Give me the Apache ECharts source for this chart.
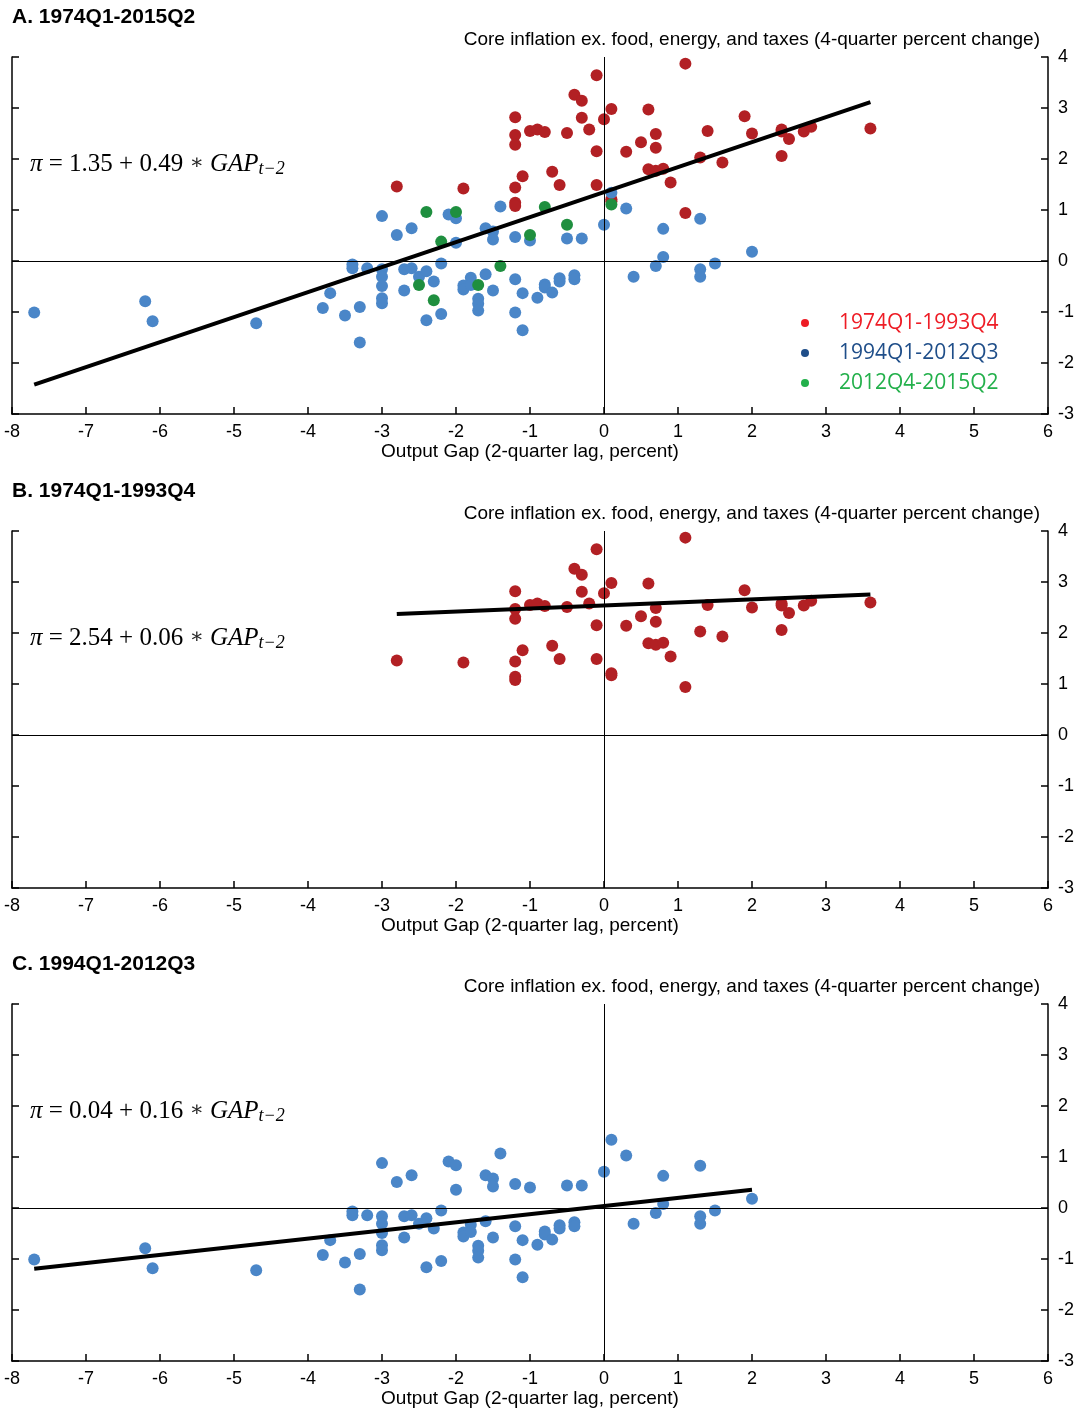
<!DOCTYPE html>
<html>
<head>
<meta charset="utf-8">
<script src="https://cdn.jsdelivr.net/npm/echarts@6/dist/echarts.min.js"></script>
<style>
  html, body { margin: 0; padding: 0; background: #fff; }
  #chart { width: 1080px; height: 1412px; }
</style>
</head>
<body>
<div id="chart"></div>
<script>
// 1974Q1-1993Q4 (output gap t-2, core inflation)
var redPts = [
  [-2.8, 1.46], [-1.9, 1.42], [-1.2, 2.82], [-1.2, 2.47], [-1.2, 2.28], [-1.2, 1.44],
  [-1.2, 1.14], [-1.2, 1.08], [-1.1, 1.66], [-1.0, 2.55], [-0.9, 2.58], [-0.8, 2.53],
  [-0.7, 1.75], [-0.6, 1.49], [-0.5, 2.51], [-0.4, 3.26], [-0.3, 3.14], [-0.3, 2.81],
  [-0.2, 2.58], [-0.1, 3.64], [-0.1, 2.15], [-0.1, 1.49], [0.0, 2.78], [0.1, 2.98],
  [0.1, 1.21], [0.1, 1.17], [0.3, 2.14], [0.5, 2.33], [0.6, 2.97], [0.6, 1.80],
  [0.7, 2.49], [0.7, 2.22], [0.7, 1.77], [0.8, 1.81], [0.9, 1.54], [1.1, 3.87],
  [1.1, 0.94], [1.3, 2.03], [1.4, 2.55], [1.6, 1.93], [1.9, 2.84], [2.0, 2.50],
  [2.4, 2.58], [2.4, 2.54], [2.4, 2.06], [2.5, 2.39], [2.7, 2.54], [2.8, 2.63],
  [3.6, 2.60]
];
// 1994Q1-2012Q3
var bluePts = [
  [-7.7, -1.01], [-6.2, -0.79], [-6.1, -1.18], [-4.7, -1.22], [-3.8, -0.92], [-3.7, -0.63],
  [-3.5, -1.07], [-3.4, -0.07], [-3.4, -0.14], [-3.3, -0.90], [-3.3, -1.60], [-3.2, -0.14],
  [-3.0, 0.88], [-3.0, -0.16], [-3.0, -0.31], [-3.0, -0.49], [-3.0, -0.73], [-3.0, -0.83],
  [-2.8, 0.51], [-2.7, -0.16], [-2.7, -0.58], [-2.6, 0.64], [-2.6, -0.14], [-2.5, -0.31],
  [-2.4, -0.20], [-2.4, -1.16], [-2.3, -0.40], [-2.2, -0.05], [-2.2, -1.04], [-2.1, 0.91],
  [-2.0, 0.84], [-2.0, 0.36], [-1.9, -0.48], [-1.9, -0.56], [-1.8, -0.33], [-1.8, -0.47],
  [-1.7, -0.74], [-1.7, -0.84], [-1.7, -0.97], [-1.6, 0.64], [-1.6, -0.26], [-1.5, 0.58],
  [-1.5, 0.42], [-1.5, -0.58], [-1.4, 1.07], [-1.2, 0.47], [-1.2, -0.36], [-1.2, -1.01],
  [-1.1, -0.63], [-1.1, -1.36], [-1.0, 0.40], [-0.9, -0.72], [-0.8, -0.46], [-0.8, -0.52],
  [-0.7, -0.62], [-0.6, -0.34], [-0.6, -0.40], [-0.5, 0.44], [-0.4, -0.28], [-0.4, -0.36],
  [-0.3, 0.44], [0.0, 0.71], [0.1, 1.34], [0.3, 1.03], [0.4, -0.31], [0.7, -0.10],
  [0.8, 0.63], [0.8, 0.08], [1.3, 0.83], [1.3, -0.16], [1.3, -0.31], [1.5, -0.05],
  [2.0, 0.18]
];
// 2012Q4-2015Q2
var greenPts = [
  [-2.4, 0.96], [-2.0, 0.96], [-2.2, 0.38], [-2.5, -0.47], [-2.3, -0.77], [-1.7, -0.47],
  [-1.4, -0.10], [-1.0, 0.51], [-0.8, 1.06], [-0.5, 0.71], [0.1, 1.11]
];

// fitted lines: [intercept, slope]
var fitA = [1.35, 0.49];
var fitB = [2.54, 0.06];
var fitC = [0.04, 0.16];

var seriesNames = ['1974Q1-1993Q4', '1994Q1-2012Q3', '2012Q4-2015Q2'];
var panelTitles = ['A. 1974Q1-2015Q2', 'B. 1974Q1-1993Q4', 'C. 1994Q1-2012Q3'];
var xTicks = [-8, 6];
var yTicks = [-3, 4];

var chart = echarts.init(document.getElementById('chart'));

var tops = [57, 531, 1004];
var RED = '#B22024', BLUE = '#4A86C8', GREEN = '#1F8F3F';
var FONT = 'Liberation Sans';

function fitLine(fit, pts) {
  var xs = pts.map(function (p) { return p[0]; });
  var x0 = Math.min.apply(null, xs), x1 = Math.max.apply(null, xs);
  return [[x0, fit[0] + fit[1] * x0], [x1, fit[0] + fit[1] * x1]];
}

function eqText(fit) {
  return '{i|π} = ' + fit[0].toFixed(2) + ' + ' + fit[1].toFixed(2) + ' {a|∗} {i|GAP}{s|t−2}';
}

var grids = [], xAxes = [], yAxes = [], titles = [], series = [];
var fits = [fitA, fitB, fitC];

tops.forEach(function (t, i) {
  grids.push({ left: 12, right: 32, top: t, height: 357 });
  xAxes.push({
    gridIndex: i, type: 'value', min: xTicks[0], max: xTicks[1], interval: 1,
    name: 'Output Gap (2-quarter lag, percent)', nameLocation: 'middle', nameGap: 28,
    nameTextStyle: { fontFamily: FONT, fontSize: 19, color: '#000' },
    axisLine: { onZero: false, lineStyle: { color: '#000', width: 1.5 } },
    axisTick: { inside: true, length: 7, lineStyle: { color: '#000', width: 1.5 } },
    axisLabel: { fontFamily: FONT, fontSize: 18, color: '#000', margin: 9 },
    splitLine: { show: false }
  });
  yAxes.push({
    gridIndex: i, type: 'value', position: 'left', min: yTicks[0], max: yTicks[1], interval: 1,
    axisLine: { show: true, onZero: false, lineStyle: { color: '#000', width: 1.5 } },
    axisTick: { show: true, inside: true, length: 7, lineStyle: { color: '#000', width: 1.5 } },
    axisLabel: { show: false },
    splitLine: { show: false }
  });
  yAxes.push({
    gridIndex: i, type: 'value', position: 'right', min: yTicks[0], max: yTicks[1], interval: 1,
    axisLine: { show: true, onZero: false, lineStyle: { color: '#000', width: 1.5 } },
    axisTick: { show: true, inside: true, length: 7, lineStyle: { color: '#000', width: 1.5 } },
    axisLabel: { fontFamily: FONT, fontSize: 18, color: '#000', margin: 10 },
    splitLine: { show: false }
  });
  titles.push({
    text: panelTitles[i], left: 12, top: t - 50, padding: 0,
    textStyle: { fontFamily: FONT, fontWeight: 'bold', fontSize: 21, color: '#000' }
  });
  titles.push({
    text: 'Core inflation ex. food, energy, and taxes (4-quarter percent change)',
    right: 40, top: t - 27, padding: 0,
    textStyle: { fontFamily: FONT, fontWeight: 'normal', fontSize: 19, color: '#000' }
  });
  titles.push({
    text: eqText(fits[i]), left: 30, top: t + 93, padding: 0,
    textStyle: {
      fontFamily: 'Liberation Serif', fontWeight: 'normal', fontSize: 25, color: '#000', lineHeight: 28,
      rich: {
        i: { fontFamily: 'Liberation Serif', fontStyle: 'italic', fontSize: 25, color: '#000', lineHeight: 28, verticalAlign: 'middle' },
        a: { fontFamily: 'DejaVu Serif', fontSize: 21, color: '#222', lineHeight: 28, verticalAlign: 'middle' },
        s: { fontFamily: 'Liberation Serif', fontStyle: 'italic', fontSize: 18, color: '#000', lineHeight: 15, verticalAlign: 'bottom' }
      }
    }
  });
});

function scatter(name, data, color, gi) {
  return {
    name: name, type: 'scatter', data: data, symbolSize: 12,
    xAxisIndex: gi, yAxisIndex: gi * 2,
    itemStyle: { color: color, opacity: 1 }, z: 3
  };
}

function lineSeries(data, gi) {
  return {
    type: 'line', data: data, xAxisIndex: gi, yAxisIndex: gi * 2,
    symbol: 'none', lineStyle: { color: '#000', width: 4 }, z: 5, silent: true,
    markLine: {
      silent: true, symbol: 'none', label: { show: false },
      lineStyle: { color: '#000', width: 1, type: 'solid' },
      data: [{ xAxis: 0 }, { yAxis: 0 }]
    }
  };
}

// panel A
series.push(scatter(seriesNames[0], redPts, RED, 0));
series.push(scatter(seriesNames[1], bluePts, BLUE, 0));
series.push(scatter(seriesNames[2], greenPts, GREEN, 0));
series.push(lineSeries(fitLine(fitA, redPts.concat(bluePts, greenPts)), 0));
// panel B
series.push(scatter(seriesNames[0], redPts, RED, 1));
series.push(lineSeries(fitLine(fitB, redPts), 1));
// panel C
series.push(scatter(seriesNames[1], bluePts, BLUE, 2));
series.push(lineSeries(fitLine(fitC, bluePts), 2));

var option = {
  backgroundColor: '#fff',
  animation: false,
  title: titles,
  legend: {
    orient: 'vertical', left: 796, top: 307, itemWidth: 58, itemHeight: 8, itemGap: 8,
    selectedMode: false,
    textStyle: { fontFamily: 'Open Sans', fontSize: 21, lineHeight: 22 },
    data: [
      { name: seriesNames[0], icon: 'circle', itemStyle: { color: '#EE1C25' }, textStyle: { color: '#EE1C25' } },
      { name: seriesNames[1], icon: 'circle', itemStyle: { color: '#1F4E89' }, textStyle: { color: '#1F4E89' } },
      { name: seriesNames[2], icon: 'circle', itemStyle: { color: '#23B04B' }, textStyle: { color: '#23B04B' } }
    ]
  },
  grid: grids,
  xAxis: xAxes,
  yAxis: yAxes,
  series: series
};

chart.setOption(option);
</script>
</body>
</html>
